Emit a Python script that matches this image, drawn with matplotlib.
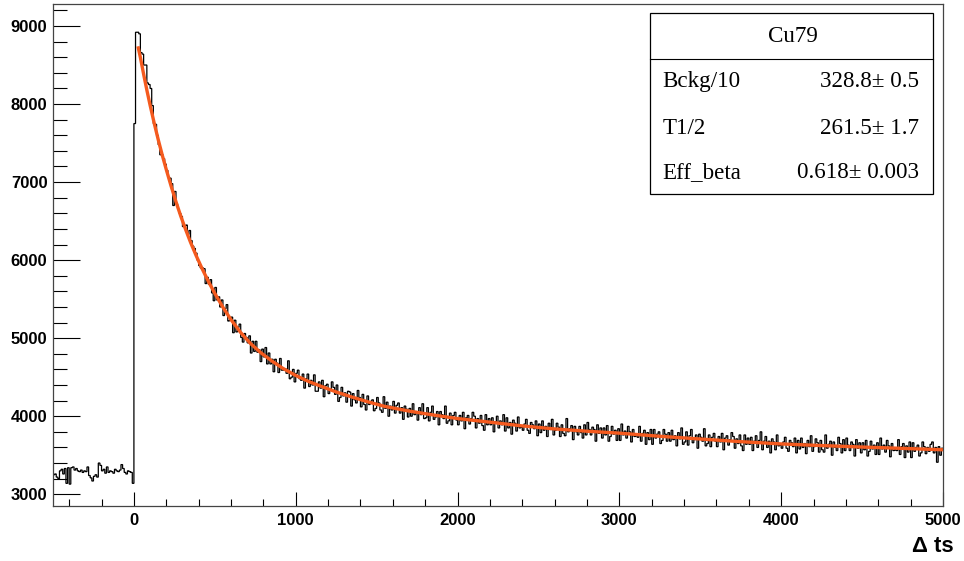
import numpy as np
import matplotlib
matplotlib.use("Agg")
import matplotlib.pyplot as plt
from matplotlib.patches import Rectangle
from matplotlib.ticker import MultipleLocator

# ---------------- data ----------------
bin_width = 10
x_start = -500
x_stop = 5000

# counts before the implantation (t < 0)
counts_pre = [
    3250, 3260, 3220, 3200, 3300, 3320, 3260, 3330, 3140, 3340,
    3130, 3340, 3350, 3310, 3330, 3300, 3290, 3310, 3280, 3300,
    3290, 3350, 3240, 3210, 3170, 3230, 3250, 3220, 3400, 3370,
    3300, 3320, 3270, 3350, 3280, 3300, 3290, 3270, 3320, 3300,
    3290, 3310, 3380, 3330, 3280, 3260, 3300, 3290, 3280, 3140,
]

# counts after t = 0
counts_post = [
    7750, 8920, 8920, 8900, 8660, 8640, 8500, 8500, 8270, 8250,
    8200, 7980, 7750, 7740, 7600, 7480, 7350, 7350, 7300, 7230,
    7150, 7060, 7050, 6980, 6700, 6880, 6720, 6650, 6600, 6560,
    6430, 6440, 6450, 6330, 6380, 6250, 6180, 6150, 6090, 6000,
    5930, 5900, 5900, 5890, 5700, 5780, 5690, 5750, 5580, 5480,
    5650, 5490, 5530, 5400, 5490, 5290, 5380, 5430, 5220, 5230,
    5270, 5070, 5230, 5080, 5140, 5180, 5010, 4950, 5060, 5010,
    4940, 5030, 4810, 4960, 4830, 4960, 4820, 4850, 4700, 4860,
    4760, 4880, 4670, 4810, 4670, 4730, 4570, 4730, 4680, 4560,
    4740, 4590, 4590, 4610, 4550, 4710, 4480, 4500, 4600, 4440,
    4550, 4590, 4480, 4460, 4540, 4360, 4480, 4540, 4380, 4460,
    4400, 4530, 4320, 4320, 4440, 4360, 4460, 4250, 4390, 4410,
    4290, 4350, 4440, 4370, 4280, 4400, 4190, 4240, 4370, 4260,
    4300, 4180, 4320, 4310, 4130, 4290, 4210, 4170, 4330, 4240,
    4120, 4280, 4150, 4080, 4260, 4150, 4190, 4210, 4070, 4100,
    4240, 4170, 4080, 4050, 4250, 4100, 4180, 4000, 4130, 4080,
    4190, 4040, 4140, 4170, 4040, 4110, 3960, 4130, 4090, 3990,
    4100, 4000, 4160, 4020, 4060, 3950, 4110, 4020, 4160, 3970,
    3980, 4110, 3940, 4050, 4130, 3960, 3990, 4060, 3890, 4060,
    4020, 3970, 4130, 3910, 3940, 4040, 3890, 4010, 4050, 3950,
    3890, 4010, 3940, 4050, 3840, 3980, 4010, 3900, 3970, 4050,
    4000, 3850, 3970, 3910, 4010, 3880, 3820, 4020, 3890, 3970,
    3890, 3980, 3800, 3930, 4000, 3850, 3940, 3890, 4020, 3810,
    3980, 3850, 3920, 3770, 3950, 3910, 3810, 3990, 3850, 3860,
    3820, 3900, 3960, 3820, 3780, 3920, 3890, 3840, 3940, 3750,
    3900, 3790, 3940, 3820, 3870, 3740, 3910, 3830, 3960, 3760,
    3820, 3910, 3860, 3740, 3890, 3780, 3750, 3970, 3800, 3840,
    3880, 3700, 3870, 3800, 3760, 3870, 3790, 3720, 3890, 3760,
    3920, 3830, 3760, 3860, 3830, 3680, 3890, 3780, 3850, 3720,
    3850, 3760, 3880, 3680, 3740, 3870, 3770, 3820, 3690, 3840,
    3690, 3900, 3760, 3810, 3720, 3870, 3800, 3670, 3830, 3740,
    3750, 3730, 3870, 3680, 3780, 3820, 3640, 3790, 3700, 3830,
    3640, 3830, 3720, 3770, 3800, 3650, 3690, 3830, 3770, 3680,
    3790, 3680, 3820, 3700, 3750, 3620, 3790, 3710, 3850, 3640,
    3670, 3800, 3630, 3750, 3830, 3660, 3700, 3760, 3590, 3770,
    3730, 3680, 3840, 3620, 3650, 3760, 3610, 3730, 3780, 3680,
    3610, 3740, 3670, 3780, 3570, 3720, 3750, 3630, 3700, 3790,
    3740, 3590, 3710, 3650, 3760, 3620, 3560, 3760, 3640, 3720,
    3640, 3730, 3560, 3680, 3750, 3600, 3690, 3800, 3570, 3680,
    3740, 3600, 3680, 3530, 3710, 3670, 3570, 3760, 3620, 3630,
    3590, 3670, 3730, 3590, 3550, 3690, 3660, 3610, 3720, 3530,
    3690, 3580, 3720, 3600, 3650, 3520, 3690, 3610, 3750, 3550,
    3610, 3710, 3660, 3540, 3690, 3570, 3540, 3760, 3590, 3640,
    3680, 3500, 3670, 3600, 3560, 3730, 3650, 3530, 3700, 3560,
    3720, 3630, 3560, 3670, 3640, 3490, 3700, 3590, 3660, 3530,
    3660, 3570, 3690, 3490, 3550, 3680, 3580, 3630, 3510, 3660,
    3510, 3720, 3580, 3630, 3540, 3690, 3620, 3480, 3650, 3560,
    3570, 3560, 3700, 3510, 3610, 3650, 3470, 3620, 3540, 3670,
    3470, 3660, 3550, 3600, 3630, 3490, 3530, 3670, 3610, 3520,
    3600, 3550, 3640, 3670, 3530, 3600, 3410, 3610, 3500, 3590,
]

# fitted curve
fit_t = [25, 40, 60, 80, 100, 125, 150, 175, 200, 230, 260, 290, 320, 350,
         385, 420, 460, 500, 550, 600, 660, 720, 780, 850, 920, 1000, 1080,
         1160, 1250, 1350, 1450, 1550, 1700, 1850, 2000, 2200, 2400, 2600,
         2800, 3000, 3250, 3500, 3750, 4000, 4250, 4500, 4750, 5000]
fit_y = [8740, 8597, 8383, 8179, 7986, 7759, 7546, 7347, 7161, 6948, 6748,
         6561, 6390, 6228, 6056, 5897, 5728, 5574, 5396, 5237, 5072, 4933,
         4821, 4711, 4614, 4522, 4445, 4381, 4311, 4244, 4182, 4126, 4066,
         4016, 3970, 3924, 3876, 3837, 3808, 3783, 3743, 3708, 3674, 3645,
         3624, 3605, 3588, 3570]

x_ticks = [0, 1000, 2000, 3000, 4000, 5000]
y_ticks = [3000, 4000, 5000, 6000, 7000, 8000, 9000]

stats_title = "Cu79"
stats_names = ["Bckg/10", "T1/2", "Eff_beta"]
stats_values = ["328.8\u00b1 0.5", "261.5\u00b1 1.7", "0.618\u00b1 0.003"]
x_title = "\u0394 ts"

# ---------------- figure ----------------
W, H = 964, 561
fig = plt.figure(figsize=(W / 100, H / 100), dpi=100)
ax = fig.add_axes([53 / W, 1 - 505.5 / H, (943 - 53) / W, (505.5 - 4) / H])

counts = np.array(counts_pre + counts_post, dtype=float)
edges = np.arange(x_start, x_stop + bin_width, bin_width)
ax.stairs(counts, edges, baseline=None, color="black", linewidth=0.9)
ax.plot(fit_t, fit_y, color="#f55a1e", linewidth=2.4, solid_capstyle="butt")

ax.set_xlim(x_start, x_stop)
ax.set_ylim(2856, 9282)
ax.set_xticks(x_ticks)
ax.set_yticks(y_ticks)
ax.xaxis.set_minor_locator(MultipleLocator(200))
ax.yaxis.set_minor_locator(MultipleLocator(200))

tick_font = {"family": "Liberation Sans", "weight": "bold", "size": 12}
ax.set_xticklabels([str(v) for v in x_ticks], fontdict=tick_font)
ax.set_yticklabels([str(v) for v in y_ticks], fontdict=tick_font)

ax.tick_params(axis="y", which="major", direction="in", length=19.4, width=0.8, pad=4)
ax.tick_params(axis="y", which="minor", direction="in", length=10, width=0.8)
ax.tick_params(axis="x", which="major", direction="in", length=10, width=0.8, pad=5.5)
ax.tick_params(axis="x", which="minor", direction="in", length=5, width=0.8)
for s in ax.spines.values():
    s.set_linewidth(0.9)
    s.set_color("#444444")

fig.text(954 / W, 1 - 547 / H, x_title, ha="right", va="center",
         family="Liberation Sans", weight="bold", size=16)

# stats box
bx0, by0, bx1, by1 = 649.5, 12.7, 933.3, 194.3
fig.add_artist(Rectangle((bx0 / W, 1 - by1 / H), (bx1 - bx0) / W, (by1 - by0) / H,
                         transform=fig.transFigure, facecolor="white",
                         edgecolor="black", linewidth=0.9, zorder=5))
fig.add_artist(plt.Line2D([bx0 / W, bx1 / W], [1 - 59.3 / H, 1 - 59.3 / H],
                          transform=fig.transFigure, color="black", linewidth=0.8, zorder=6))
serif = {"family": "Liberation Serif", "size": 16.6}
fig.text(793 / W, 1 - 36.7 / H, stats_title, ha="center", va="center", zorder=7, **serif)
rows_y = [81.7, 128, 173]
for name, val, yy in zip(stats_names, stats_values, rows_y):
    fig.text(662.7 / W, 1 - yy / H, name, ha="left", va="center", zorder=7, **serif)
    fig.text(919.3 / W, 1 - yy / H, val, ha="right", va="center", zorder=7, **serif)

fig.savefig("out.png", dpi=100, facecolor="white")
